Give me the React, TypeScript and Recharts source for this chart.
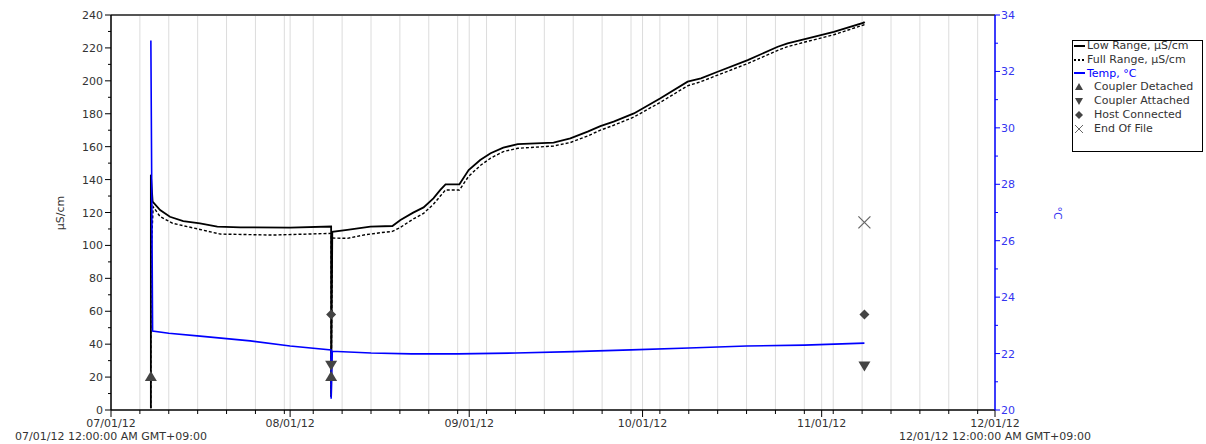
import { ComposedChart, Line, Scatter, XAxis, YAxis, CartesianGrid, ReferenceLine } from 'recharts'

// days counted from 07/01/12
const monthDays = [0, 31, 62, 92, 123, 153]
const monthLabels = ['07/01/12', '08/01/12', '09/01/12', '10/01/12', '11/01/12', '12/01/12']
const rangeLabels = ['07/01/12 12:00:00 AM GMT+09:00', '12/01/12 12:00:00 AM GMT+09:00']
const fiveDayTicks = [5, 10, 15, 20, 25, 30, 35, 40, 45, 50, 55, 60, 65, 70, 75, 80, 85, 90, 95, 100, 105, 110, 115, 120, 125, 130, 135, 140, 145, 150]
const condTicks = [0, 10, 20, 30, 40, 50, 60, 70, 80, 90, 100, 110, 120, 130, 140, 150, 160, 170, 180, 190, 200, 210, 220, 230, 240]
const tempTicks = [20, 21, 22, 23, 24, 25, 26, 27, 28, 29, 30, 31, 32, 33, 34]

const lowRange = [
  { d: 6.9, v: 1 }, { d: 6.9, v: 143 }, { d: 7.2, v: 126.6 }, { d: 8.5, v: 121.5 }, { d: 10.2, v: 117.4 },
  { d: 12.5, v: 114.8 }, { d: 15.4, v: 113.4 }, { d: 18.4, v: 111.4 }, { d: 22.4, v: 111 }, { d: 31, v: 110.8 },
  { d: 38.1, v: 111.5 }, { d: 38.1, v: 8 }, { d: 38.3, v: 108.3 }, { d: 40.9, v: 109.4 }, { d: 44.9, v: 111.4 },
  { d: 48.7, v: 111.8 }, { d: 50.1, v: 115.4 }, { d: 52.3, v: 119.9 }, { d: 54.1, v: 123.1 }, { d: 55.8, v: 128.6 },
  { d: 57, v: 133.7 }, { d: 57.9, v: 137.1 }, { d: 60.3, v: 137.1 }, { d: 61.9, v: 145.8 }, { d: 63.9, v: 151.9 },
  { d: 65.7, v: 156 }, { d: 67.9, v: 159.4 }, { d: 70.4, v: 161.6 }, { d: 76.6, v: 162.4 }, { d: 79.5, v: 165 },
  { d: 82.5, v: 169.1 }, { d: 84.7, v: 172.5 }, { d: 87, v: 175.2 }, { d: 90.5, v: 180.2 }, { d: 95.1, v: 189.4 },
  { d: 99.8, v: 199.5 }, { d: 102.1, v: 201.5 }, { d: 105, v: 205.5 }, { d: 110.2, v: 212.6 }, { d: 115.4, v: 220.7 },
  { d: 117.1, v: 222.8 }, { d: 120.6, v: 225.8 }, { d: 125.1, v: 229.8 }, { d: 130.3, v: 235.3 }, { d: 130.4, v: 236 },
]

const fullRange = [
  { d: 6.9, v: 1 }, { d: 6.9, v: 92 }, { d: 7.3, v: 123.5 }, { d: 8.5, v: 117.5 }, { d: 10.7, v: 113.4 },
  { d: 15.4, v: 109.7 }, { d: 18.9, v: 106.9 }, { d: 28, v: 106.3 }, { d: 38.1, v: 107.3 }, { d: 38.1, v: 8 },
  { d: 38.3, v: 104.5 }, { d: 40.9, v: 104.3 }, { d: 44, v: 106.5 }, { d: 46.6, v: 107.7 }, { d: 48.7, v: 108.5 },
  { d: 50.1, v: 111 }, { d: 52.3, v: 116 }, { d: 54.1, v: 119.5 }, { d: 55.8, v: 125 }, { d: 57, v: 130 },
  { d: 57.9, v: 133.7 }, { d: 60.3, v: 133.7 }, { d: 61.9, v: 142 }, { d: 63.9, v: 148.5 }, { d: 65.7, v: 153 },
  { d: 67.9, v: 157 }, { d: 70.4, v: 159 }, { d: 76.6, v: 160.4 }, { d: 79.5, v: 162.5 }, { d: 82.5, v: 166.5 },
  { d: 84.7, v: 170 }, { d: 87, v: 173 }, { d: 90.5, v: 178 }, { d: 95.1, v: 187 }, { d: 99.8, v: 197 },
  { d: 102.1, v: 199.5 }, { d: 105, v: 203.5 }, { d: 110.2, v: 210.5 }, { d: 115.4, v: 218.5 }, { d: 117.1, v: 220.8 },
  { d: 120.6, v: 224 }, { d: 125.1, v: 228 }, { d: 130.3, v: 234 }, { d: 130.4, v: 235 },
]

const temp = [
  { d: 6.9, v: 33.1 }, { d: 7.2, v: 22.8 }, { d: 10, v: 22.72 }, { d: 15.4, v: 22.62 }, { d: 24.1, v: 22.45 },
  { d: 31, v: 22.27 }, { d: 38.1, v: 22.13 }, { d: 38.1, v: 20.4 }, { d: 38.3, v: 22.08 }, { d: 45, v: 22.02 },
  { d: 52, v: 21.99 }, { d: 60, v: 21.99 }, { d: 70, v: 22.02 }, { d: 80, v: 22.07 }, { d: 90, v: 22.13 },
  { d: 100, v: 22.2 }, { d: 110, v: 22.27 }, { d: 120, v: 22.3 }, { d: 130.4, v: 22.37 },
]

const couplerDetached = [{ d: 6.9, v: 20 }, { d: 38.1, v: 20 }]
const couplerAttached = [{ d: 38.1, v: 27.5 }, { d: 130.4, v: 27 }]
const hostConnected = [{ d: 38.1, v: 58 }, { d: 130.4, v: 58 }]
const endOfFile = [{ d: 130.4, v: 114 }]

const FONT = '"DejaVu Sans", sans-serif'
const MARK = '#444'
const BLUE = '#0000ff'

const DateTick = ({ x, y, payload }: any) => {
  const i = monthDays.indexOf(payload.value)
  if (i < 0) return <line x1={x} y1={y} x2={x} y2={y + 4} stroke="#000" />
  return (
    <g fontFamily={FONT} fontSize={11} fill="#333">
      <line x1={x} y1={y} x2={x} y2={y + 7} stroke="#000" />
      <text x={x} y={y + 17} textAnchor="middle">{monthLabels[i]}</text>
      {i === 0 && <text x={x} y={y + 30} textAnchor="middle">{rangeLabels[0]}</text>}
      {i === monthDays.length - 1 && <text x={x} y={y + 30} textAnchor="middle">{rangeLabels[1]}</text>}
    </g>
  )
}

const CondTick = ({ x, y, payload }: any) => {
  const major = payload.value % 20 === 0
  return (
    <g>
      <line x1={x - (major ? 6 : 3)} y1={y} x2={x} y2={y} stroke="#000" />
      {major && (
        <text x={x - 8} y={y + 4} textAnchor="end" fontFamily={FONT} fontSize={11} fill="#333">{payload.value}</text>
      )}
    </g>
  )
}

const TempTick = ({ x, y, payload }: any) => {
  const major = payload.value % 2 === 0
  return (
    <g>
      <line x1={x} y1={y} x2={x + (major ? 5 : 3)} y2={y} stroke={BLUE} />
      {major && (
        <text x={x + 6} y={y + 4} textAnchor="start" fontFamily={FONT} fontSize={11} fill="#3535f0">{payload.value}</text>
      )}
    </g>
  )
}

const triUp = (cx: number, cy: number) => `M${cx},${cy - 6} L${cx + 6},${cy + 4} L${cx - 6},${cy + 4} Z`
const triDown = (cx: number, cy: number) => `M${cx - 6},${cy - 4} L${cx + 6},${cy - 4} L${cx},${cy + 6} Z`
const diamond = (cx: number, cy: number) => `M${cx},${cy - 5} L${cx + 5},${cy} L${cx},${cy + 5} L${cx - 5},${cy} Z`
const cross = (cx: number, cy: number) => `M${cx - 6},${cy - 6} L${cx + 6},${cy + 6} M${cx + 6},${cy - 6} L${cx - 6},${cy + 6}`

const legendItems = [
  { label: 'Low Range, µS/cm', kind: 'solid' },
  { label: 'Full Range, µS/cm', kind: 'dotted' },
  { label: 'Temp, °C', kind: 'blue' },
  { label: 'Coupler Detached', kind: 'up' },
  { label: 'Coupler Attached', kind: 'down' },
  { label: 'Host Connected', kind: 'diamond' },
  { label: 'End Of File', kind: 'cross' },
]

const isLine = (kind: string) => kind === 'solid' || kind === 'dotted' || kind === 'blue'

function LegendIcon({ kind }: { kind: string }) {
  return (
    <svg width={isLine(kind) ? 12 : 19} height={12} style={{ display: 'block', flex: 'none' }}>
      {kind === 'solid' && <line x1={0} y1={6} x2={11} y2={6} stroke="#000" strokeWidth={2} />}
      {kind === 'dotted' && <line x1={0} y1={6} x2={11} y2={6} stroke="#000" strokeWidth={2} strokeDasharray="2 2" />}
      {kind === 'blue' && <line x1={0} y1={6} x2={11} y2={6} stroke={BLUE} strokeWidth={2} />}
      {kind === 'up' && <path d="M5,2 L9,9 L1,9 Z" fill={MARK} />}
      {kind === 'down' && <path d="M1,3 L9,3 L5,10 Z" fill={MARK} />}
      {kind === 'diamond' && <path d="M5,2 L9,6 L5,10 L1,6 Z" fill={MARK} />}
      {kind === 'cross' && <path d="M1,2 L9,10 M9,2 L1,10" stroke="#666" strokeWidth={1} />}
    </svg>
  )
}

export default function App() {
  return (
    <div style={{ position: 'absolute', left: 0, top: 0, width: 1206, height: 444, background: '#fff', fontFamily: FONT }}>
      <ComposedChart width={1206} height={444} margin={{ top: 15, right: 149, bottom: 0, left: 0 }}>
        <CartesianGrid horizontal={false} stroke="#dcdcdc" yAxisId="left" />
        <XAxis
          dataKey="d"
          type="number"
          domain={[0, 153]}
          allowDataOverflow
          ticks={[...monthDays, ...fiveDayTicks].sort((a, b) => a - b)}
          interval={0}
          tick={<DateTick />}
          tickLine={false}
          tickSize={0}
          tickMargin={0}
          height={34}
          axisLine={{ stroke: '#000', strokeWidth: 1.5 }}
        />
        <YAxis
          yAxisId="left"
          type="number"
          domain={[0, 240]}
          ticks={condTicks}
          interval={0}
          tick={<CondTick />}
          tickLine={false}
          tickSize={0}
          tickMargin={0}
          width={111}
          axisLine={{ stroke: '#000', strokeWidth: 1.5 }}
        />
        <YAxis
          yAxisId="right"
          orientation="right"
          type="number"
          domain={[20, 34]}
          ticks={tempTicks}
          interval={0}
          tick={<TempTick />}
          tickLine={false}
          tickSize={0}
          tickMargin={0}
          width={62}
          axisLine={{ stroke: BLUE, strokeWidth: 1.5 }}
        />
        <ReferenceLine yAxisId="left" y={240} stroke="#555" strokeWidth={2} />
        <Line yAxisId="left" data={lowRange} dataKey="v" type="linear" stroke="#000" strokeWidth={1.8} dot={false} isAnimationActive={false} />
        <Line yAxisId="left" data={fullRange} dataKey="v" type="linear" stroke="#000" strokeWidth={1.4} strokeDasharray="3 2" dot={false} isAnimationActive={false} />
        <Line yAxisId="right" data={temp} dataKey="v" type="linear" stroke={BLUE} strokeWidth={1.6} dot={false} isAnimationActive={false} />
        <Scatter yAxisId="left" data={couplerDetached} dataKey="v" isAnimationActive={false}
          shape={(p: any) => <path d={triUp(p.cx, p.cy)} fill={MARK} />} />
        <Scatter yAxisId="left" data={couplerAttached} dataKey="v" isAnimationActive={false}
          shape={(p: any) => <path d={triDown(p.cx, p.cy)} fill={MARK} />} />
        <Scatter yAxisId="left" data={hostConnected} dataKey="v" isAnimationActive={false}
          shape={(p: any) => <path d={diamond(p.cx, p.cy)} fill={MARK} />} />
        <Scatter yAxisId="left" data={endOfFile} dataKey="v" isAnimationActive={false}
          shape={(p: any) => <path d={cross(p.cx, p.cy)} stroke="#666" strokeWidth={1.2} fill="none" />} />
      </ComposedChart>

      <div style={{ position: 'absolute', left: 60, top: 213, transform: 'translate(-50%, -50%) rotate(-90deg)', fontSize: 11, color: '#333', whiteSpace: 'nowrap' }}>
        µS/cm
      </div>
      <div style={{ position: 'absolute', left: 1057, top: 213, transform: 'translate(-50%, -50%) rotate(90deg)', fontSize: 11, color: '#3535f0', whiteSpace: 'nowrap' }}>
        °C
      </div>

      <div style={{ position: 'absolute', left: 1072, top: 40, width: 131, height: 112, border: '1px solid #000', boxSizing: 'border-box', paddingTop: 0 }}>
        <div style={{ marginTop: -2 }}>
          {legendItems.map((it) => (
            <div key={it.label} style={{ display: 'flex', alignItems: 'center', height: 13.8, paddingLeft: 1, fontSize: 11, lineHeight: '14px', whiteSpace: 'nowrap', color: it.kind === 'blue' ? BLUE : '#333' }}>
              <LegendIcon kind={it.kind} />
              <span style={{ marginLeft: 1 }}>{it.label}</span>
            </div>
          ))}
        </div>
      </div>
    </div>
  )
}
